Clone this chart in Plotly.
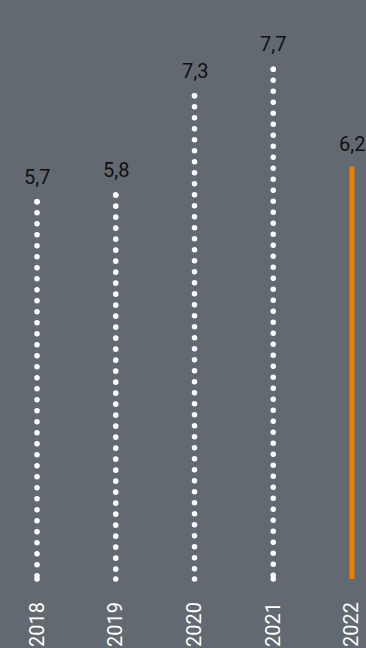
import plotly.graph_objects as go

years = ["2018", "2019", "2020", "2021", "2022"]
values = [5.7, 5.8, 7.3, 7.7, 6.2]
labels = ["5,7", "5,8", "7,3", "7,7", "6,2"]
highlight = "2022"

BG = "#636970"
ORANGE = "#F07D00"

fig = go.Figure()
for i, (yr, v, lab) in enumerate(zip(years, values, labels)):
    is_hl = yr == highlight
    fig.add_trace(go.Scatter(
        x=[i, i], y=[v, 0], mode="lines" if is_hl else "lines+markers",
        line=dict(color=ORANGE if is_hl else "white",
                  width=5 if is_hl else 5.5,
                  dash="solid" if is_hl else "0.1px,10.9px"),
        marker=dict(color="white", size=5.5, line=dict(width=0)),
        hoverinfo="skip", showlegend=False, cliponaxis=False,
    ))
    fig.add_annotation(x=i, y=v, text=lab, showarrow=False,
                       yanchor="bottom", yshift=11,
                       font=dict(family="Roboto", size=20, color="#111111"))

fig.update_layout(
    width=366, height=648,
    margin=dict(l=0, r=0, t=0, b=69),
    paper_bgcolor=BG, plot_bgcolor=BG,
    xaxis=dict(range=[-0.47, 4.178], tickmode="array",
               tickvals=list(range(len(years))), ticktext=years,
               tickangle=-90, showgrid=False, zeroline=False, showline=False,
               ticks="", ticklabelstandoff=18,
               tickfont=dict(family="Roboto", size=20, color="white")),
    yaxis=dict(range=[0, 8.746], visible=False, showgrid=False, zeroline=False),
)
post = ("document.querySelectorAll('.scatterlayer .js-line').forEach("
        "function(e){e.style.strokeLinecap='round';});")
fig.write_html("out.html", post_script=post)
